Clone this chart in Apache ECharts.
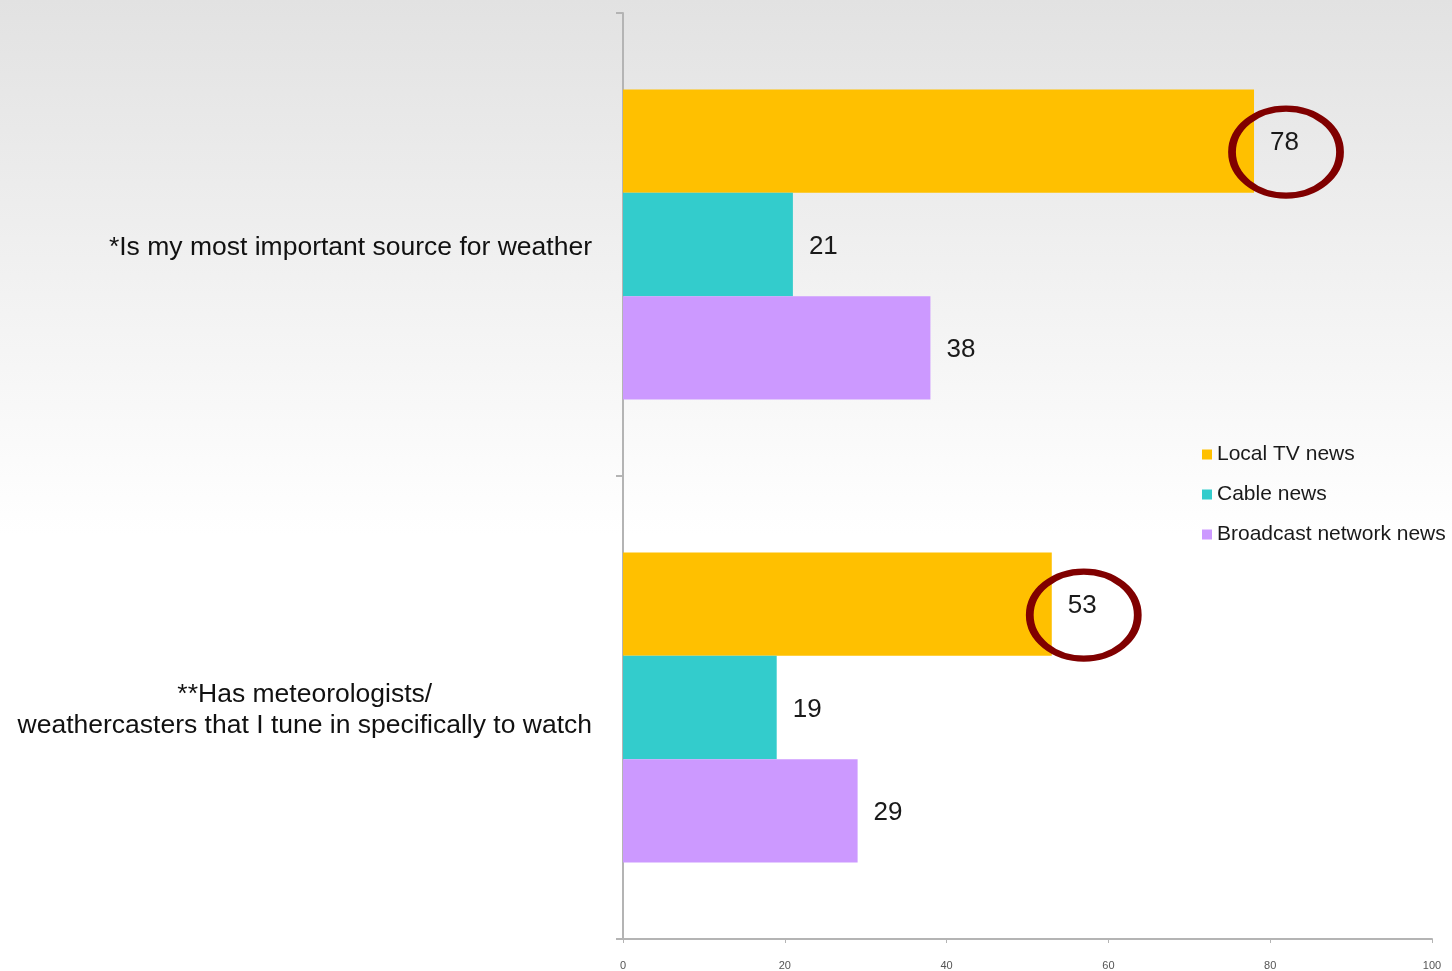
<!DOCTYPE html>
<html>
<head>
<meta charset="utf-8">
<title>Weather sources</title>
<script src="https://cdn.jsdelivr.net/npm/echarts@6/dist/echarts.min.js"></script>
<style>
  html, body { margin: 0; padding: 0; }
  #chart { width: 1452px; height: 971px; }
</style>
</head>
<body>
<div id="chart"></div>
<script>
// survey statements, top to bottom
const categories = [
    '*Is my most important source for weather',
    '**Has meteorologists/\nweathercasters that I tune in specifically to watch',
];
const seriesNames = ['Local TV news', 'Cable news', 'Broadcast network news'];
const localTv = [78, 53];
const cableNews = [21, 19];
const broadcastNews = [38, 29];
const xTicks = [0, 20, 40, 60, 80, 100];

const COLORS = ['#FFC000', '#33CCCC', '#CC99FF'];
const FONT = 'Liberation Sans, Arial, sans-serif';

const chart = echarts.init(document.getElementById('chart'));

const valueLabel = {
    show: true,
    position: 'right',
    distance: 16,
    offset: [0, 2],
    color: '#1a1a1a',
    fontFamily: FONT,
    fontSize: 26,
};

function makeSeries(name, values, color, extra) {
    return Object.assign({
        name: name,
        type: 'bar',
        data: values,
        barGap: 0,
        barCategoryGap: '33%',
        itemStyle: { color: color },
        label: valueLabel,
        silent: true,
    }, extra || {});
}

const option = {
    backgroundColor: new echarts.graphic.LinearGradient(0, 0, 0, 1, [
        { offset: 0, color: '#e2e2e2' },
        { offset: 0.55, color: '#ffffff' },
        { offset: 1, color: '#ffffff' },
    ]),
    animation: false,
    grid: { left: 623, right: 20, top: 13, bottom: 31, containLabel: false },
    legend: {
        orient: 'vertical',
        left: 1197,
        top: 439,
        itemWidth: 10,
        itemHeight: 10,
        itemGap: 19,
        icon: 'rect',
        textStyle: {
            color: '#1a1a1a',
            fontFamily: FONT,
            fontSize: 21,
        },
        data: seriesNames,
    },
    xAxis: {
        type: 'value',
        min: 0,
        max: 100,
        interval: 20,
        splitLine: { show: false },
        axisLine: { show: true, lineStyle: { color: '#b4b4b4', width: 2 } },
        axisTick: { show: true, length: 4, lineStyle: { color: '#b4b4b4', width: 1 } },
        axisLabel: {
            margin: 21,
            color: '#555',
            fontSize: 11,
            fontFamily: FONT,
            formatter: (v) => (xTicks.indexOf(v) >= 0 ? String(v) : ''),
        },
    },
    yAxis: {
        type: 'category',
        inverse: true,
        data: categories,
        axisLine: { show: true, lineStyle: { color: '#b4b4b4', width: 2 } },
        axisTick: { show: true, length: 7, lineStyle: { color: '#b4b4b4', width: 2 } },
        axisLabel: {
            margin: 31,
            align: 'right',
            color: '#111',
            fontFamily: FONT,
            fontSize: 26.5,
            lineHeight: 31,
            padding: [6, 0, 0, 0],
            formatter: (v) => v.split('\n').map((s) => '{c|' + s + '}').join('\n'),
            rich: {
                c: {
                    align: 'center',
                    color: '#111',
                    fontFamily: FONT,
                    fontSize: 26.5,
                    lineHeight: 31,
                },
            },
        },
    },
    series: [
        makeSeries(seriesNames[0], localTv, COLORS[0], {
            markPoint: {
                silent: true,
                symbol: 'circle',
                symbolSize: [108, 87],
                symbolOffset: [32, 11],
                label: { show: false },
                itemStyle: { color: 'rgba(0,0,0,0)', borderColor: '#800000', borderWidth: 7 },
                data: localTv.map((v, i) => ({ coord: [v, i] })),
            },
        }),
        makeSeries(seriesNames[1], cableNews, COLORS[1]),
        makeSeries(seriesNames[2], broadcastNews, COLORS[2]),
    ],
};

chart.setOption(option);
</script>
</body>
</html>
